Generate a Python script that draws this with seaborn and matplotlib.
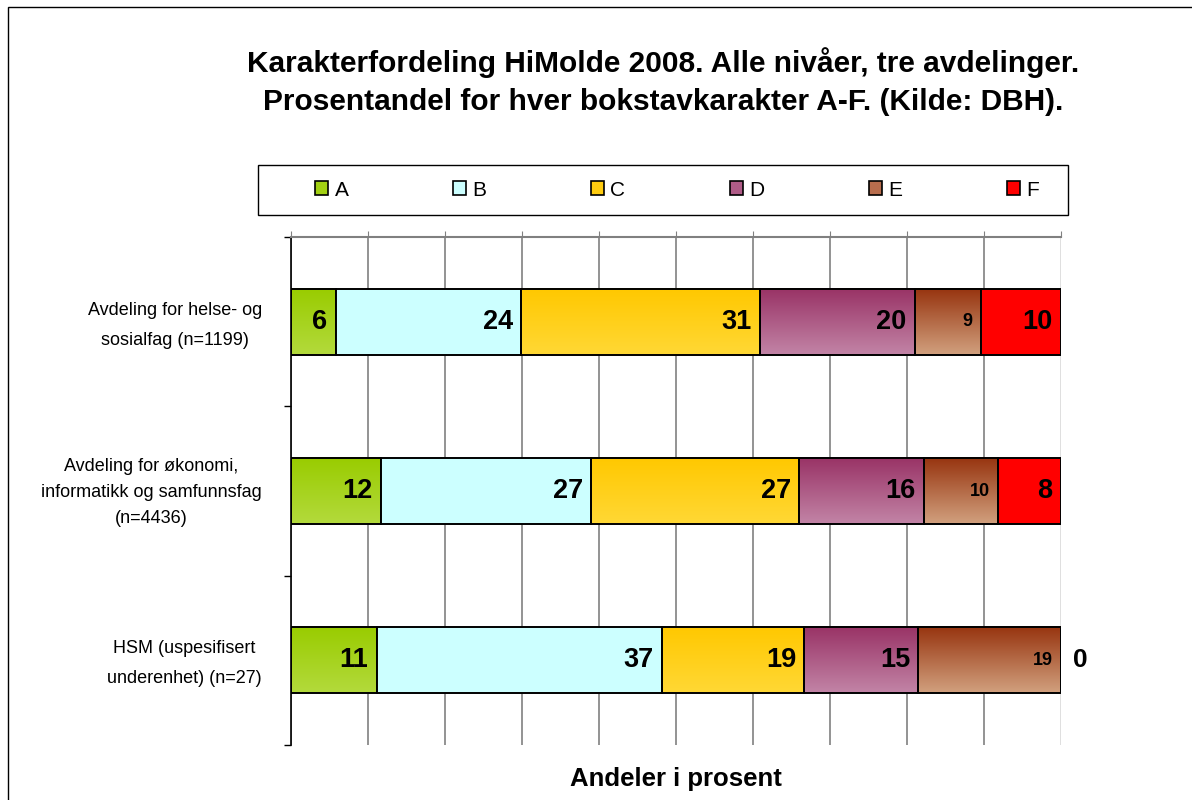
import numpy as np
import pandas as pd
import matplotlib
matplotlib.use("Agg")
import matplotlib.pyplot as plt
import seaborn as sns
from matplotlib.colors import LinearSegmentedColormap
from matplotlib.patches import Patch, Rectangle
from matplotlib.transforms import ScaledTranslation

categories = ["Avdeling for helse- og\nsosialfag (n=1199)",
              "Avdeling for økonomi,\ninformatikk og samfunnsfag\n(n=4436)",
              "HSM (uspesifisert\nunderenhet) (n=27)"]
grades = ["A", "B", "C", "D", "E", "F"]
# percent per grade, one value per department
grade_a = [5.8, 11.7, 11.11]
grade_b = [24.1, 27.3, 37.04]
grade_c = [31.0, 27.0, 18.52]
grade_d = [20.1, 16.2, 14.81]
grade_e = [8.6, 9.6, 18.52]
grade_f = [10.4, 8.2, 0.0]

# top colour, bottom colour (vertical gradient like the excel fill)
fills = {"A": ("#99cc00", "#b3da3c"),
         "B": ("#ccffff", "#ccffff"),
         "C": ("#ffc800", "#ffd835"),
         "D": ("#993366", "#c284a6"),
         "E": ("#97340f", "#d1a07e"),
         "F": ("#ff0000", "#ff0000")}
legend_colors = ["#a2d012", "#ccffff", "#ffcc10", "#b05c88", "#b86d4d", "#ff0000"]

df = pd.DataFrame({"Avdeling": categories, "A": grade_a, "B": grade_b, "C": grade_c,
                   "D": grade_d, "E": grade_e, "F": grade_f})

sns.set_style("white")
plt.rcParams["font.family"] = ["Liberation Sans", "DejaVu Sans"]
plt.rcParams["text.color"] = "black"
plt.rcParams["axes.labelcolor"] = "black"
plt.rcParams["xtick.color"] = "black"
plt.rcParams["ytick.color"] = "black"

fig = plt.figure(figsize=(11.92, 8), dpi=100)
ax = fig.add_axes([291 / 1192, 1 - 745 / 800, 770 / 1192, 508 / 800])

left = np.zeros(len(categories))
for g in grades:
    sns.barplot(data=df, x=g, y="Avdeling", orient="y", color=fills[g][0], saturation=1,
                width=0.39, edgecolor="black", linewidth=1.4, errorbar=None, ax=ax)
    cont = ax.containers[-1]
    for i, p in enumerate(cont.patches):
        p.set_x(left[i])
        x0, y0, w, h = p.get_x(), p.get_y(), p.get_width(), p.get_height()
        if fills[g][0] != fills[g][1] and w > 0:
            cmap = LinearSegmentedColormap.from_list(g, list(fills[g]))
            ax.imshow(np.linspace(0, 1, 64).reshape(-1, 1), cmap=cmap, aspect="auto",
                      extent=[x0, x0 + w, y0 + h, y0], origin="upper", zorder=0.9)
            p.set_facecolor("none")
        p.set_zorder(1)
        val = df[g].iloc[i]
        size = 13 if g == "E" else 19.5
        if round(val) == 0:
            ax.annotate(f"{val:.0f}", xy=(x0 + w, y0 + h / 2), xytext=(9, 0),
                        textcoords="offset points", ha="left", va="center",
                        fontsize=19, fontweight="bold")
        else:
            ax.annotate(f"{val:.0f}", xy=(x0 + w, y0 + h / 2), xytext=(-6, 0),
                        textcoords="offset points", ha="right", va="center",
                        fontsize=size, fontweight="bold")
    left += df[g].to_numpy()

ax.set_xlim(0, 100)
ax.set_ylim(2.5, -0.5)
ax.set_axisbelow(True)
ax.set_xticks(np.arange(0, 101, 10))
ax.xaxis.grid(True, color="#808080", linewidth=1.2)
ax.get_xgridlines()[-1].set_color("#d9d9d9")
ax.yaxis.grid(False)
ax.tick_params(axis="x", top=True, bottom=False, labeltop=False, labelbottom=False,
               length=4, color="#808080", direction="out")
ax.set_yticks(range(len(categories)))
ax.set_yticklabels(categories, fontsize=13, multialignment="center")
ax.set_yticks([-0.5, 0.5, 1.5, 2.5], minor=True)
ax.tick_params(axis="y", which="major", length=0, pad=21)
ax.tick_params(axis="y", which="minor", left=True, length=5, color="black", width=1)
# excel puts the category text a bit above the bar centre
shift = ScaledTranslation(0, 5 / 100, fig.dpi_scale_trans)
for lab, ls in zip(ax.get_yticklabels(), [2.0, 1.7, 2.0]):
    lab.set_linespacing(ls)
    lab.set_transform(lab.get_transform() + shift)
for s in ["right", "bottom"]:
    ax.spines[s].set_visible(False)
ax.spines["left"].set_color("black")
ax.spines["left"].set_linewidth(1.2)
ax.spines["top"].set_color("#808080")
ax.spines["top"].set_linewidth(1.5)

ax.set_ylabel("")
ax.set_xlabel("Andeler i prosent", fontsize=18.5, fontweight="bold", labelpad=0)
ax.xaxis.set_label_coords(0.5, -0.043)

handles = [Patch(facecolor=c, edgecolor="black", linewidth=1.2, label=g)
           for g, c in zip(grades, legend_colors)]
fig.legend(handles=handles, ncol=6, loc="center", bbox_to_anchor=(677 / 1192, 1 - 190 / 800),
           frameon=False, fontsize=15, handlelength=0.65, handleheight=0.65,
           handletextpad=0.3, columnspacing=5.0, borderaxespad=0)
fig.patches.append(Rectangle((258 / 1192, 1 - 215 / 800), 810 / 1192, 50 / 800,
                             transform=fig.transFigure, fill=False, edgecolor="black",
                             linewidth=1))

fig.text(663 / 1192, 1 - 82 / 800,
         "Karakterfordeling HiMolde 2008. Alle nivåer, tre avdelinger.\n"
         "Prosentandel for hver bokstavkarakter A-F. (Kilde: DBH).",
         ha="center", va="center", fontsize=21.5, fontweight="bold", linespacing=1.45)

fig.patches.append(Rectangle((8 / 1192, -0.1), 2, 1.1 - 7 / 800, transform=fig.transFigure,
                             fill=False, edgecolor="black", linewidth=1))

fig.savefig("out.png", dpi=100)
